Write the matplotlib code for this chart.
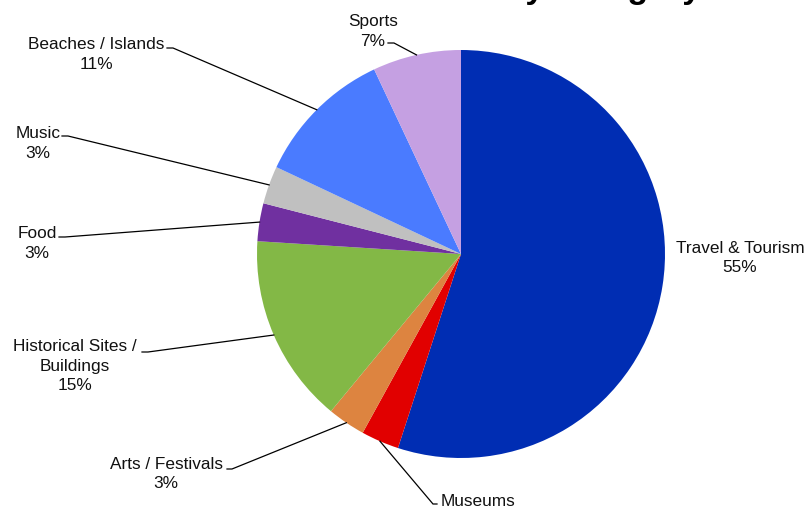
import numpy as np
import matplotlib
matplotlib.use("Agg")
from matplotlib import pyplot as plt

# ------------------------------ data ------------------------------ #
categories = ["Travel & Tourism", "Museums", "Arts / Festivals",
              "Historical Sites /\nBuildings", "Food", "Music",
              "Beaches / Islands", "Sports"]
shares = [55, 3, 3, 15, 3, 3, 11, 7]
colors = ["#002db3", "#e10000", "#dd8440", "#83b846",
          "#7030a0", "#c0c0c0", "#4a7bff", "#c5a0e2"]
title = "Social Media Interests by Category"

# ----------------------------- layout ----------------------------- #
W, H = 806, 509
center = (461, 254)      # pixel coords, y downwards
radius = 204
line_step = 19.5

# label anchor (x, first baseline y) and leader stub (x0, x1, y), pixels
label_pos = [(740, 253), (478, 506), (166, 469), (75, 351),
             (37, 238), (38, 138), (96, 49), (373, 26)]
stubs = [None, (437, 433, 504), (227, 232, 469), (142, 148, 352),
         (59, 65, 237), (62, 68, 136), (167, 173, 48), (388, 394, 43)]

plt.rcParams['font.family'] = ['Liberation Sans', 'DejaVu Sans']


def px(x, y):
    return x, H - y


fig = plt.figure(figsize=(W / 100, H / 100), dpi=100)
ax = fig.add_axes([0, 0, 1, 1])

wedges, _ = ax.pie(shares, colors=colors, startangle=90, counterclock=False,
                   center=px(*center), radius=radius, frame=True,
                   wedgeprops=dict(linewidth=0))
ax.set_xlim(0, W)
ax.set_ylim(0, H)
ax.axis("off")

total = float(sum(shares))
for w, name, val, (tx, ty), stub in zip(wedges, categories, shares,
                                        label_pos, stubs):
    label = "%s\n%d%%" % (name, round(100 * val / total))
    # baseline alignment goes to the last line
    last = ty + line_step * label.count("\n")
    ax.text(*px(tx, last), label, ha="center", va="baseline",
            fontsize=12.4, linespacing=1.36, color="#111111")
    if stub is None:
        continue
    mid = np.deg2rad((w.theta1 + w.theta2) / 2)
    cx, cy = px(*center)
    ex, ey = cx + radius * np.cos(mid), cy + radius * np.sin(mid)
    x0, x1, sy = stub
    sx0, sy0 = px(x0, sy)
    sx1, _ = px(x1, sy)
    ax.plot([sx0, sx1, ex], [sy0, sy0, ey], color="black", lw=0.9,
            solid_joinstyle="miter")

# title sits mostly above the top edge, only its descenders show
ax.text(*px(701, -2), title, ha="right", va="baseline", fontsize=24.5,
        fontweight="bold", color="black")

fig.savefig("out.png", dpi=100)
